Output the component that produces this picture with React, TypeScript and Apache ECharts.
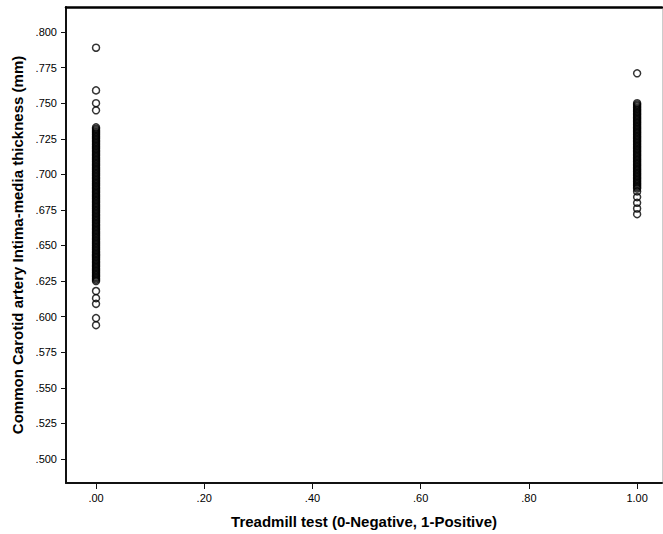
import React, { useEffect, useRef } from "react";
import * as echarts from "echarts";

const xTicks = [0, 0.2, 0.4, 0.6, 0.8, 1.0];
const yTicks = [0.5, 0.525, 0.55, 0.575, 0.6, 0.625, 0.65, 0.675, 0.7, 0.725, 0.75, 0.775, 0.8];

// Treadmill test negative (0)
const negativeCIMT = [
  0.789, 0.759, 0.750, 0.745,
  0.733, 0.732, 0.731, 0.730, 0.729, 0.728, 0.727, 0.726, 0.725, 0.724, 0.723, 0.722, 0.721, 0.720,
  0.719, 0.718, 0.717, 0.716, 0.715, 0.714, 0.713, 0.712, 0.711, 0.710, 0.709, 0.708, 0.707, 0.706,
  0.705, 0.704, 0.703, 0.702, 0.701, 0.700, 0.699, 0.698, 0.697, 0.696, 0.695, 0.694, 0.693, 0.692,
  0.691, 0.690, 0.689, 0.688, 0.687, 0.686, 0.685, 0.684, 0.683, 0.682, 0.681, 0.680, 0.679, 0.678,
  0.677, 0.676, 0.675, 0.674, 0.673, 0.672, 0.671, 0.670, 0.669, 0.668, 0.667, 0.666, 0.665, 0.664,
  0.663, 0.662, 0.661, 0.660, 0.659, 0.658, 0.657, 0.656, 0.655, 0.654, 0.653, 0.652, 0.651, 0.650,
  0.649, 0.648, 0.647, 0.646, 0.645, 0.644, 0.643, 0.642, 0.641, 0.640, 0.639, 0.638, 0.637, 0.636,
  0.635, 0.634, 0.633, 0.632, 0.631, 0.630, 0.629, 0.628, 0.627, 0.626, 0.625,
  0.618, 0.613, 0.609, 0.599, 0.594,
];

// Treadmill test positive (1)
const positiveCIMT = [
  0.771,
  0.750, 0.749, 0.748, 0.747, 0.746, 0.745, 0.744, 0.743, 0.742, 0.741, 0.740, 0.739, 0.738, 0.737,
  0.736, 0.735, 0.734, 0.733, 0.732, 0.731, 0.730, 0.729, 0.728, 0.727, 0.726, 0.725, 0.724, 0.723,
  0.722, 0.721, 0.720, 0.719, 0.718, 0.717, 0.716, 0.715, 0.714, 0.713, 0.712, 0.711, 0.710, 0.709,
  0.708, 0.707, 0.706, 0.705, 0.704, 0.703, 0.702, 0.701, 0.700, 0.699, 0.698, 0.697, 0.696, 0.695,
  0.694, 0.693, 0.692, 0.691, 0.690, 0.688, 0.684, 0.680, 0.676, 0.672,
];

const xTitle = "Treadmill test (0-Negative, 1-Positive)";
const yTitle = "Common Carotid artery Intima-media thickness (mm)";

const FONT = "'Liberation Sans', Arial, sans-serif";

export default function App() {
  const ref = useRef<HTMLDivElement>(null);
  useEffect(() => {
    if (!ref.current) return;
    const chart = echarts.init(ref.current, null, { renderer: "svg" });
    const data = [
      ...negativeCIMT.map((v) => [0, v]),
      ...positiveCIMT.map((v) => [1, v]),
    ];
    const fmtX = (v: number) => v.toFixed(2).replace(/^0/, "");
    const fmtY = (v: number) => v.toFixed(3).replace(/^0/, "");
    chart.setOption({
      animation: false,
      backgroundColor: "#ffffff",
      grid: { left: 66, top: 7, right: 1, bottom: 51 },
      xAxis: [
        {
          type: "value",
          min: -0.0555,
          max: 1.046,
          position: "bottom",
          name: xTitle,
          nameLocation: "middle",
          nameGap: 31,
          nameTextStyle: { fontFamily: FONT, fontSize: 15, fontWeight: "bold", color: "#000" },
          axisLine: { show: true, onZero: false, lineStyle: { color: "#111", width: 2 } },
          axisTick: { show: true, length: 6, customValues: xTicks, lineStyle: { color: "#111", width: 1 } },
          axisLabel: {
            customValues: xTicks,
            formatter: fmtX,
            margin: 9,
            fontFamily: FONT,
            fontSize: 11,
            color: "#000",
          },
          splitLine: { show: false },
        },
        {
          type: "value",
          min: -0.0555,
          max: 1.046,
          position: "top",
          axisLine: { show: true, onZero: false, lineStyle: { color: "#000", width: 2.5 } },
          axisTick: { show: false },
          axisLabel: { show: false },
          splitLine: { show: false },
        },
      ],
      yAxis: [
        {
          type: "value",
          min: 0.4831,
          max: 0.8176,
          position: "left",
          name: yTitle,
          nameLocation: "middle",
          nameGap: 41,
          nameRotate: 90,
          nameTextStyle: { fontFamily: FONT, fontSize: 15, fontWeight: "bold", color: "#000" },
          axisLine: { show: true, onZero: false, lineStyle: { color: "#111", width: 2 } },
          axisTick: { show: true, length: 5, customValues: yTicks, lineStyle: { color: "#111", width: 1 } },
          axisLabel: {
            customValues: yTicks,
            formatter: fmtY,
            margin: 9,
            fontFamily: FONT,
            fontSize: 11,
            color: "#000",
          },
          splitLine: { show: false },
        },
        {
          type: "value",
          min: 0.4831,
          max: 0.8176,
          position: "right",
          axisLine: { show: true, onZero: false, lineStyle: { color: "#cccccc", width: 1 } },
          axisTick: { show: false },
          axisLabel: { show: false },
          splitLine: { show: false },
        },
      ],
      series: [
        {
          type: "scatter",
          xAxisIndex: 0,
          yAxisIndex: 0,
          data,
          symbol: "circle",
          symbolSize: 7,
          itemStyle: { color: "rgba(255,255,255,0)", borderColor: "#000", borderWidth: 1.5 },
          emphasis: { disabled: true },
        },
      ],
    });
    return () => chart.dispose();
  }, []);
  return (
    <div
      ref={ref}
      style={{ position: "fixed", left: 0, top: 0, width: 663, height: 534, background: "#fff" }}
    />
  );
}
